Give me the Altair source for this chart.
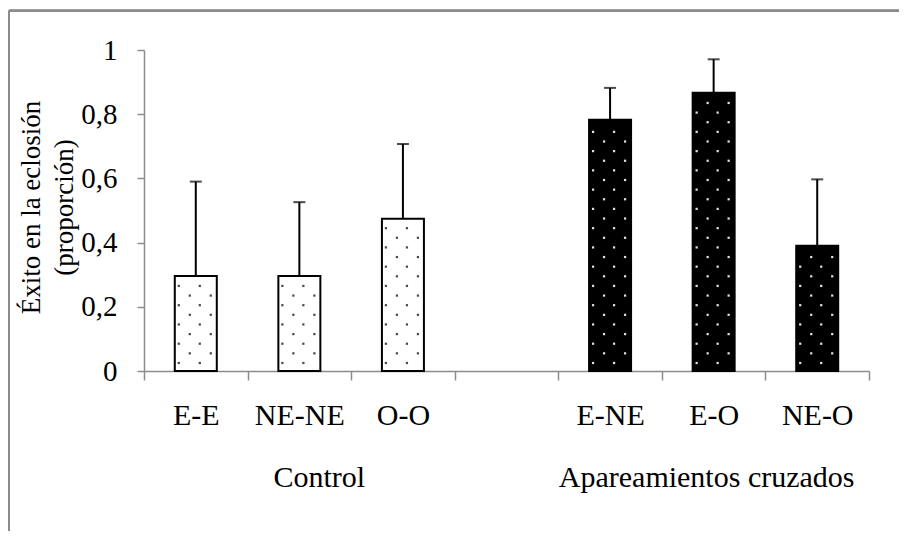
import altair as alt
import pandas as pd

# ---- data ----
categories = ["E-E", "NE-NE", "O-O", "E-NE", "E-O", "NE-O"]
groups = ["Control", "Control", "Control",
          "Apareamientos cruzados", "Apareamientos cruzados", "Apareamientos cruzados"]
means = [0.296, 0.296, 0.474, 0.783, 0.867, 0.390]
upper_err = [0.294, 0.230, 0.233, 0.099, 0.104, 0.207]

slot_order = ["E-E", "NE-NE", "O-O", " ", "E-NE", "E-O", "NE-O"]
group_labels = ["Control", "Apareamientos cruzados"]
group_anchor = ["NE-NE", "E-O"]
group_dx = [20, -7]

y_ticks = [0, 0.2, 0.4, 0.6, 0.8, 1]

df = pd.DataFrame({"cat": categories, "group": groups, "mean": means, "err": upper_err})
df["top"] = df["mean"] + df["err"]

# dotted fill texture (decoration) derived from bar heights
dot_rows = []
for c, g, m in zip(categories, groups, means):
    k = 0
    while 0.025 + 0.0300 * k < m - 0.008:
        yv = 0.025 + 0.0300 * k
        cols = [0, 2] if k % 2 == 0 else [1, 3]
        for ci in cols:
            dot_rows.append({"cat": c, "group": g, "col": ci, "yv": yv})
        k += 1
dots = pd.DataFrame(dot_rows)
col_px = [-17, -6, 4, 15]  # pixel offsets of texture columns from bar centre (style)

FONT = "'Liberation Serif', 'Times New Roman', Times, serif"

x_enc = alt.X(
    "cat:N",
    scale=alt.Scale(domain=slot_order, paddingInner=0, paddingOuter=0),
    axis=alt.Axis(
        title=None, labelAngle=0, tickBand="extent", tickSize=9,
        domainColor="#8c8c8c", tickColor="#8c8c8c", domainWidth=1.5, tickWidth=1.5,
        labelFont=FONT, labelFontSize=30, labelColor="black", labelPadding=20,
    ),
)
y_scale = alt.Scale(domain=[0, 1], nice=False, zero=True)
y_axis = alt.Axis(
    values=y_ticks, grid=False, tickSize=7,
    labelExpr="replace(format(datum.value, '.1~f'), '.', ',')",
    domainColor="#8c8c8c", tickColor="#8c8c8c", domainWidth=1.5, tickWidth=1.5,
    labelFont=FONT, labelFontSize=29, labelColor="black", labelPadding=20,
    title=["Éxito en la eclosión", "(proporción)"],
    titleFont=FONT, titleFontSize=27, titleFontWeight="normal", titleColor="black",
    titleLineHeight=33, titleBaseline="alphabetic", titleX=-105, titleY=157,
    titleAlign="center",
)

base = alt.Chart(df)

is_ctrl = alt.datum.group == "Control"

bars = base.mark_bar(size=42, stroke="black", strokeWidth=2).encode(
    x=x_enc,
    y=alt.Y("mean:Q", scale=y_scale, axis=y_axis),
    fill=alt.condition(is_ctrl, alt.value("white"), alt.value("black")),
)

dot_layers = []
for ci, px in enumerate(col_px):
    dot_layers.append(
        alt.Chart(dots[dots["col"] == ci]).mark_square(size=5, opacity=1, xOffset=px).encode(
            x=x_enc,
            y=alt.Y("yv:Q", scale=y_scale, axis=y_axis),
            fill=alt.condition(is_ctrl, alt.value("#4a4a4a"), alt.value("#e0e0e0")),
        )
    )

err_rule = base.mark_rule(color="black", strokeWidth=2).encode(
    x=x_enc,
    y=alt.Y("mean:Q", scale=y_scale, axis=y_axis),
    y2="top:Q",
)
err_cap = base.mark_tick(color="black", size=12, thickness=2).encode(
    x=x_enc,
    y=alt.Y("top:Q", scale=y_scale, axis=y_axis),
)

glab = pd.DataFrame({"label": group_labels, "cat": group_anchor, "dx": group_dx})
g_texts = []
for lbl, anc, dx in zip(group_labels, group_anchor, group_dx):
    g_texts.append(
        alt.Chart(glab[glab["label"] == lbl]).mark_text(
            font=FONT, fontSize=30, color="black", baseline="alphabetic", align="center", dx=dx
        ).encode(x=x_enc, y=alt.value(437), text="label:N")
    )

frame_left = alt.Chart(df).mark_rule(color="#8c8c8c", strokeWidth=2).encode(
    x=alt.value(-135), y=alt.value(-39.2), y2=alt.value(600)
)
frame_top = alt.Chart(df).mark_rule(color="#8c8c8c", strokeWidth=2).encode(
    x=alt.value(-135), x2=alt.value(900), y=alt.value(-39.2)
)

chart = alt.layer(
    frame_left, frame_top, bars, *dot_layers, err_rule, err_cap, *g_texts
).properties(
    width=725, height=321,
    autosize=alt.AutoSizeParams(type="none"),
    padding={"left": 136, "top": 42, "right": 30, "bottom": 160},
    background="white",
).configure_view(stroke=None)

chart.save("out.html", embed_options={"renderer": "svg", "actions": False})
